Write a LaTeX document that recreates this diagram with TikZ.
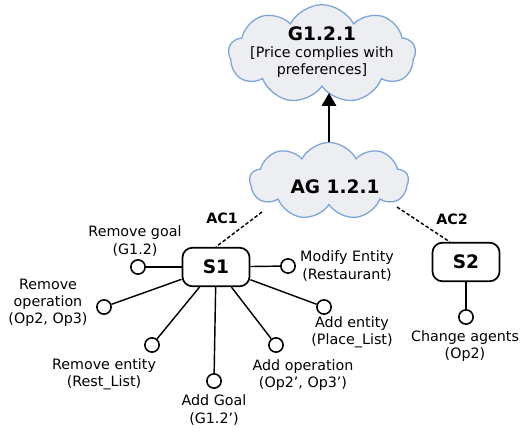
\documentclass[tikz,border=0pt]{standalone}
\usepackage{fontspec}
\setmainfont{DejaVu Sans}
\usetikzlibrary{shapes.symbols,arrows.meta}
\definecolor{cloudline}{RGB}{125,165,215}
\definecolor{cloudfill}{RGB}{236,238,241}
\tikzset{
  goalcloud/.style={cloud, cloud puffs=9, cloud puff arc=125, cloud ignores aspect,
    draw=cloudline, fill=cloudfill, line width=0.9pt, inner sep=0pt},
  scen/.style={draw, rounded corners=7pt, line width=1.2pt, minimum width=47pt,
    minimum height=27pt, font=\fontsize{13}{15}\selectfont\bfseries},
  op/.style={circle, draw, line width=1.1pt, minimum size=10pt, inner sep=0pt},
  lbl/.style={align=center, inner sep=1pt}
}

\begin{document}
\begin{tikzpicture}[x=0.7pt,y=-0.7pt]
  \useasboundingbox (0,0) rectangle (522,435);
  \draw
  (322,54)  node[goalcloud, minimum width=131pt, minimum height=69pt](g){}
  (329,181) node[goalcloud, minimum width=111pt, minimum height=54pt](ag){};
  \node[lbl] (gtxt) at (322,52)
    {{\fontsize{13}{15}\selectfont\bfseries G1.2.1}\\{[}Price complies with\\preferences]};
  \node[font=\fontsize{13}{15}\selectfont\bfseries] (agtxt) at (335,187) {AG 1.2.1};
  \coordinate (gbot) at (329,93);
  \draw[-{Triangle[width=10pt,length=9pt]}, line width=1.4pt]
    (ag.north) -- (ag.north |- gbot);

  % scenarios
  \node[scen] (s1) at (216,267) {S1};
  \node[scen] (s2) at (466,262) {S2};
  \coordinate (ac1end) at (262,212);
  \coordinate (ac2end) at (397,207);
  \draw[dashed, dash pattern=on 2.5pt off 1.5pt, line width=1pt] (ac1end) -- (s1.north);
  \draw[dashed, dash pattern=on 2.5pt off 1.5pt, line width=1pt] (ac2end) -- (s2.129);
  \node[font=\bfseries] (ac1) at (222,218) {AC1};
  \node[font=\bfseries] (ac2) at (452,219) {AC2};

  % operations
  \draw
  (138,267) node[op](rg){}
  (104,307) node[op](rop){}
  (152,345) node[op](ren){}
  (214,381) node[op](agl){}
  (276,345) node[op](aop){}
  (324,307) node[op](aen){}
  (288,266) node[op](men){}
  (466,317) node[op](cha){};
  \draw[line width=1pt] (s1) -- (rg);
  \draw[line width=1pt] (s1) -- (rop);
  \draw[line width=1pt] (s1) -- (ren);
  \draw[line width=1pt] (s1) -- (agl);
  \draw[line width=1pt] (s1) -- (aop);
  \draw[line width=1pt] (s1) -- (aen);
  \draw[line width=1pt] (s1) -- (men);
  \draw[line width=1pt] (s2) -- (cha);

  \node[lbl] (rgl)  at (135,241) {Remove goal\\(G1.2)};
  \node[lbl] (ropl) at (48,303)  {Remove\\operation\\(Op2, Op3)};
  \node[lbl] (renl) at (104,374) {Remove entity\\(Rest\_List)};
  \node[lbl] (agll) at (214,410) {Add Goal\\(G1.2')};
  \node[lbl] (aopl) at (303,375) {Add operation\\(Op2', Op3')};
  \node[lbl] (aenl) at (352,332) {Add entity\\(Place\_List)};
  \node[lbl] (menl) at (347,266) {Modify Entity\\(Restaurant)};
  \node[lbl] (chal) at (465,346) {Change agents\\(Op2)};
\end{tikzpicture}
\end{document}
